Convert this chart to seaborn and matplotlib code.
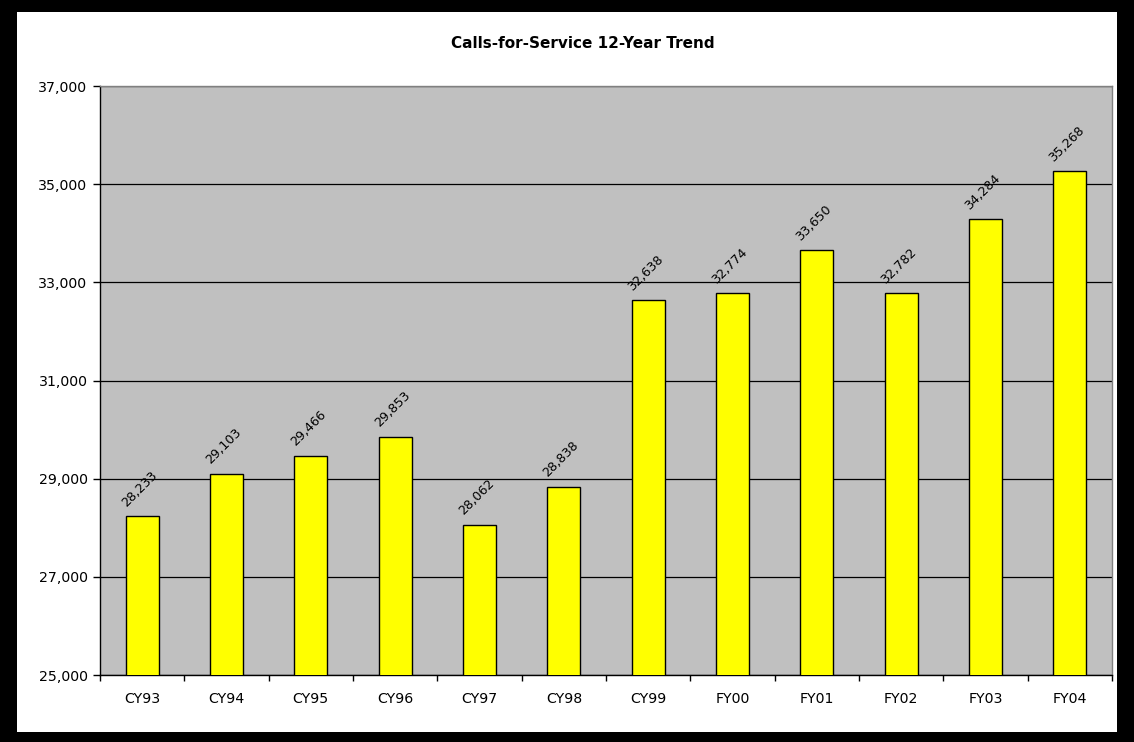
import numpy as np
import pandas as pd
import matplotlib
matplotlib.use('Agg')
import matplotlib.pyplot as plt
from matplotlib.patches import Rectangle
from matplotlib.ticker import FuncFormatter, FixedLocator
import seaborn as sns

years = ['CY93', 'CY94', 'CY95', 'CY96', 'CY97', 'CY98', 'CY99', 'FY00', 'FY01', 'FY02', 'FY03', 'FY04']
calls = [28233, 29103, 29466, 29853, 28062, 28838, 32638, 32774, 33650, 32782, 34284, 35268]

df = pd.DataFrame({'Year': years, 'Calls': calls})

sns.set_style('white')
plt.rcParams['font.family'] = ['DejaVu Sans']
plt.rcParams['text.color'] = 'black'
plt.rcParams['xtick.color'] = 'black'
plt.rcParams['ytick.color'] = 'black'

fig = plt.figure(figsize=(11.34, 7.42), dpi=100)
ax = fig.add_axes([100 / 1134, 1 - 675 / 742, 1012 / 1134, 589 / 742])
ax.set_facecolor('#C0C0C0')

sns.barplot(data=df, x='Year', y='Calls', color='#FFFF00', edgecolor='black',
            linewidth=1, width=0.39, saturation=1, ax=ax, zorder=3)

ax.set_ylim(25000, 37000)
ax.set_xlim(-0.5, len(years) - 0.5)
ax.set_yticks(np.arange(25000, 37001, 2000))
ax.yaxis.set_major_formatter(FuncFormatter(lambda v, p: f'{int(v):,}'))
ax.grid(axis='y', color='black', linewidth=0.9, zorder=1)
ax.set_axisbelow(True)

# category boundary tick marks like Excel
ax.xaxis.set_minor_locator(FixedLocator(np.arange(-0.5, len(years), 1)))
ax.tick_params(axis='x', which='major', length=0, pad=12, labelsize=10.2, labelcolor='black')
ax.tick_params(axis='x', which='minor', length=4, width=1, color='black', direction='out')
ax.tick_params(axis='y', length=5, width=1, color='black', direction='out', labelsize=10.2,
               pad=4, labelcolor='black')
ax.tick_params(bottom=True, left=True, which='both')

ax.set_xlabel('')
ax.set_ylabel('')

for side in ['left', 'bottom']:
    ax.spines[side].set_color('black')
    ax.spines[side].set_linewidth(1)
for side in ['top', 'right']:
    ax.spines[side].set_visible(True)
    ax.spines[side].set_color('#808080')
    ax.spines[side].set_linewidth(1)

for i, v in enumerate(calls):
    ax.annotate(f'{v:,}', (i, v), xytext=(-2, 5), textcoords='offset points',
                ha='center', va='bottom', rotation=45, fontsize=9.2, color='black', zorder=5)

fig.text(583 / 1134, 1 - 44 / 742, 'Calls-for-Service 12-Year Trend', ha='center', va='center',
         fontsize=11, fontweight='bold', color='black')

# black frame around the chart
W, H = 1134, 742
for (x0, y0, w, h) in [(0, 0, 17, H), (W - 17, 0, 17, H), (0, H - 12, W, 12), (0, 0, W, 10)]:
    fig.patches.append(Rectangle((x0 / W, y0 / H), w / W, h / H, transform=fig.transFigure,
                                 facecolor='black', edgecolor='none', zorder=10))

fig.savefig('out.png', dpi=100, facecolor='white')
